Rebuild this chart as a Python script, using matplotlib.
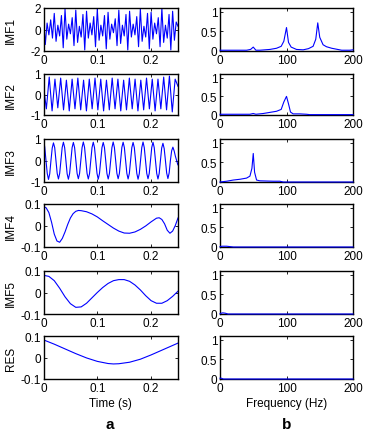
import numpy as np
import matplotlib
matplotlib.use("Agg")
import matplotlib.pyplot as plt

plt.rcParams['font.family'] = ['Liberation Sans', 'DejaVu Sans']
plt.rcParams['axes.unicode_minus'] = False

# ---- data ----
imf_names = ['IMF1', 'IMF2', 'IMF3', 'IMF4', 'IMF5', 'RES']

# IMF1: successive extrema (about 150 Hz with beating)
imf1 = [1.2, -1.4, 0.6, -0.5, 0.9, -0.8, 1.5, -1.1, 0.4, -0.6, 1.3, -1.7, 1.9, -0.9, 0.5, -0.4,
        1.1, -1.5, 1.8, -1.2, 0.3, -0.7, 1.4, -1.9, 1.7, -0.8, 0.6, -0.5, 1.2, -1.6, 1.9, -1.0,
        0.4, -0.6, 1.3, -1.8, 1.6, -0.9, 0.5, -0.3, 1.0, -1.5, 1.8, -1.3, 0.4, -0.6, 1.4, -1.9,
        1.7, -0.7, 0.5, -0.5, 1.2, -1.6, 1.9, -1.1, 0.3, -0.7, 1.5, -1.8, 1.6, -0.9, 0.6, -0.4,
        1.1, -1.6, 2.0, -1.2, 0.4, -0.8, 1.4, -1.9, 1.7, -1.0, 0.7, 0.3]

# IMF2: successive extrema (about 95 Hz)
imf2 = [0.4, -0.7, 0.85, -0.8, 0.75, -0.65, 0.8, -0.75, 0.7, -0.8, 0.75, -0.7, 0.8, -0.75,
        0.7, -0.8, 0.75, -0.7, 0.8, -0.75, 0.75, -0.8, 0.7, -0.75, 0.8, -0.7, 0.75, -0.8,
        0.7, -0.75, 0.8, -0.7, 0.75, -0.8, 0.7, -0.75, 0.8, -0.7, 0.75, -0.8, 0.75, -0.7,
        0.85, -0.75, 0.9, -0.85, 0.75, 0.4]

# IMF3: 8 samples per cycle (about 54 Hz)
imf3 = [1.0, 0.62, 0.0, -0.6, -0.88, -0.62, 0.0, 0.58,
        0.82, 0.6, 0.0, -0.6, -0.86, -0.6, 0.0, 0.6,
        0.85, 0.6, 0.0, -0.62, -0.87, -0.6, 0.0, 0.6,
        0.84, 0.6, 0.0, -0.6, -0.85, -0.6, 0.0, 0.6,
        0.86, 0.61, 0.0, -0.6, -0.86, -0.61, 0.0, 0.6,
        0.85, 0.6, 0.0, -0.6, -0.87, -0.6, 0.0, 0.6,
        0.84, 0.6, 0.0, -0.61, -0.86, -0.6, 0.0, 0.6,
        0.86, 0.6, 0.0, -0.6, -0.85, -0.6, 0.0, 0.61,
        0.85, 0.6, 0.0, -0.6, -0.86, -0.6, 0.0, 0.6,
        0.84, 0.6, 0.0, -0.6, -0.87, -0.61, 0.0, 0.6,
        0.86, 0.6, 0.0, -0.6, -0.85, -0.6, 0.0, 0.6,
        0.85, 0.6, 0.0, -0.6, -0.86, -0.6, 0.0, 0.58,
        0.8, 0.56, 0.0, -0.58, -0.84, -0.58, 0.0, 0.45,
        0.62, 0.45, 0.2, 0.0, -0.2]

imf4_t = [0, 0.005, 0.01, 0.015, 0.02, 0.025, 0.03, 0.035, 0.04, 0.045, 0.05, 0.055, 0.06,
          0.065, 0.07, 0.08, 0.09, 0.10, 0.11, 0.12, 0.13, 0.14, 0.15, 0.16, 0.17, 0.18, 0.19,
          0.20, 0.21, 0.215, 0.22, 0.225, 0.23, 0.235, 0.24, 0.245, 0.25]
imf4 = [0.088, 0.082, 0.06, 0.015, -0.04, -0.072, -0.078, -0.06, -0.03, 0.005, 0.035, 0.055,
        0.066, 0.07, 0.069, 0.064, 0.054, 0.04, 0.022, 0.005, -0.012, -0.026, -0.035, -0.036,
        -0.03, -0.018, -0.002, 0.017, 0.034, 0.036, 0.028, 0.008, -0.022, -0.036, -0.026,
        0.0, 0.035]

imf5_t = [0, 0.01, 0.02, 0.03, 0.04, 0.05, 0.06, 0.07, 0.08, 0.09, 0.10, 0.11, 0.12, 0.13,
          0.14, 0.15, 0.16, 0.17, 0.18, 0.19, 0.20, 0.21, 0.22, 0.23, 0.24, 0.25]
imf5 = [0.08, 0.075, 0.055, 0.02, -0.02, -0.052, -0.069, -0.067, -0.05, -0.025, 0.0, 0.023,
        0.042, 0.055, 0.06, 0.06, 0.052, 0.035, 0.012, -0.015, -0.038, -0.05, -0.05, -0.038,
        -0.018, 0.006]

res_t = [0, 0.02, 0.04, 0.06, 0.08, 0.10, 0.12, 0.13, 0.14, 0.16, 0.18, 0.20, 0.22, 0.24, 0.25]
res = [0.082, 0.062, 0.04, 0.018, -0.002, -0.018, -0.028, -0.03, -0.029, -0.022, -0.008,
       0.012, 0.034, 0.056, 0.067]

spec_f = [
    [0, 40, 46, 50, 54, 60, 75, 85, 92, 96, 100, 103, 107, 115, 125, 133, 140, 144, 147, 150,
     155, 160, 168, 183, 195, 200],
    [0, 45, 50, 54, 65, 75, 85, 92, 96, 100, 103, 106, 110, 120, 130, 135, 200],
    [0, 10, 20, 30, 40, 45, 48, 50, 52, 55, 60, 80, 90, 95, 200],
    [0, 3, 10, 15, 20, 200],
    [0, 4, 8, 12, 200],
    [0, 2, 5, 200],
]
spec_a = [
    [0.02, 0.02, 0.04, 0.1, 0.02, 0.02, 0.04, 0.07, 0.12, 0.25, 0.6, 0.22, 0.1, 0.04, 0.03, 0.06,
     0.12, 0.3, 0.72, 0.35, 0.16, 0.11, 0.07, 0.02, 0.02, 0.03],
    [0.02, 0.02, 0.04, 0.02, 0.04, 0.07, 0.1, 0.15, 0.35, 0.5, 0.3, 0.08, 0.03, 0.03, 0.02, 0.01,
     0.01],
    [0.0, 0.02, 0.05, 0.07, 0.1, 0.15, 0.35, 0.73, 0.25, 0.05, 0.03, 0.02, 0.02, 0.0, 0.0],
    [0.01, 0.02, 0.02, 0.01, 0.0, 0.0],
    [0.01, 0.03, 0.02, 0.0, 0.0],
    [0.02, 0.02, 0.0, 0.0],
]

time_series = [
    (np.linspace(0, 0.25, len(imf1)), imf1),
    (np.linspace(0, 0.25, len(imf2)), imf2),
    (np.arange(len(imf3)) * 0.0185 / 8, imf3),
    (imf4_t, imf4),
    (imf5_t, imf5),
    (res_t, res),
]
ylims = [(-2, 2), (-1, 1), (-1, 1), (-0.1, 0.1), (-0.1, 0.1), (-0.1, 0.1)]
yticks = [[-2, 0, 2], [-1, 0, 1], [-1, 0, 1], [-0.1, 0, 0.1], [-0.1, 0, 0.1], [-0.1, 0, 0.1]]
ytlabels = [['-2', '0', '2'], ['-1', '0', '1'], ['-1', '0', '1'],
            ['-0.1', '0', '0.1'], ['-0.1', '0', '0.1'], ['-0.1', '0', '0.1']]

# ---- figure ----
W, H = 366, 435
fig = plt.figure(figsize=(W / 100, H / 100), dpi=100)
rows = [(9, 52), (75, 116), (140, 183), (205, 248), (272, 315), (337, 380)]
fs = 8.5


def style(ax):
    for s in ax.spines.values():
        s.set_linewidth(1.0)
    ax.tick_params(direction='in', length=2.5, width=0.6, top=True, right=True,
                   labelsize=fs, pad=2)


for i, (top, bot) in enumerate(rows):
    # left: time series
    ax = fig.add_axes([43.5 / W, 1 - bot / H, 134.5 / W, (bot - top) / H])
    t, v = time_series[i]
    ax.plot(t, v, color='blue', lw=0.8)
    ax.set_xlim(0, 0.25)
    ax.set_ylim(*ylims[i])
    ax.set_xticks([0, 0.1, 0.2])
    ax.set_xticklabels(['0', '0.1', '0.2'])
    ax.set_yticks(yticks[i])
    ax.set_yticklabels(ytlabels[i])
    ax.set_ylabel(imf_names[i], fontsize=fs)
    ax.yaxis.set_label_coords(-0.2, 0.5)
    style(ax)
    if i == 5:
        ax.set_xlabel('Time (s)', fontsize=fs, labelpad=2)

    # right: spectrum
    ax2 = fig.add_axes([220 / W, 1 - bot / H, 133 / W, (bot - top) / H])
    ax2.plot(spec_f[i], spec_a[i], color='blue', lw=0.8, clip_on=False, zorder=3)
    ax2.set_xlim(0, 200)
    ax2.set_ylim(0, 1.1)
    ax2.set_xticks([0, 100, 200])
    ax2.set_yticks([0, 0.5, 1])
    ax2.set_yticklabels(['0', '0.5', '1'])
    style(ax2)
    if i == 5:
        ax2.set_xlabel('Frequency (Hz)', fontsize=fs, labelpad=2)

fig.text(110 / W, 1 - 425 / H, 'a', fontsize=11, fontweight='bold', ha='center', va='center')
fig.text(287 / W, 1 - 425 / H, 'b', fontsize=11, fontweight='bold', ha='center', va='center')

fig.savefig('out.png', dpi=100)
